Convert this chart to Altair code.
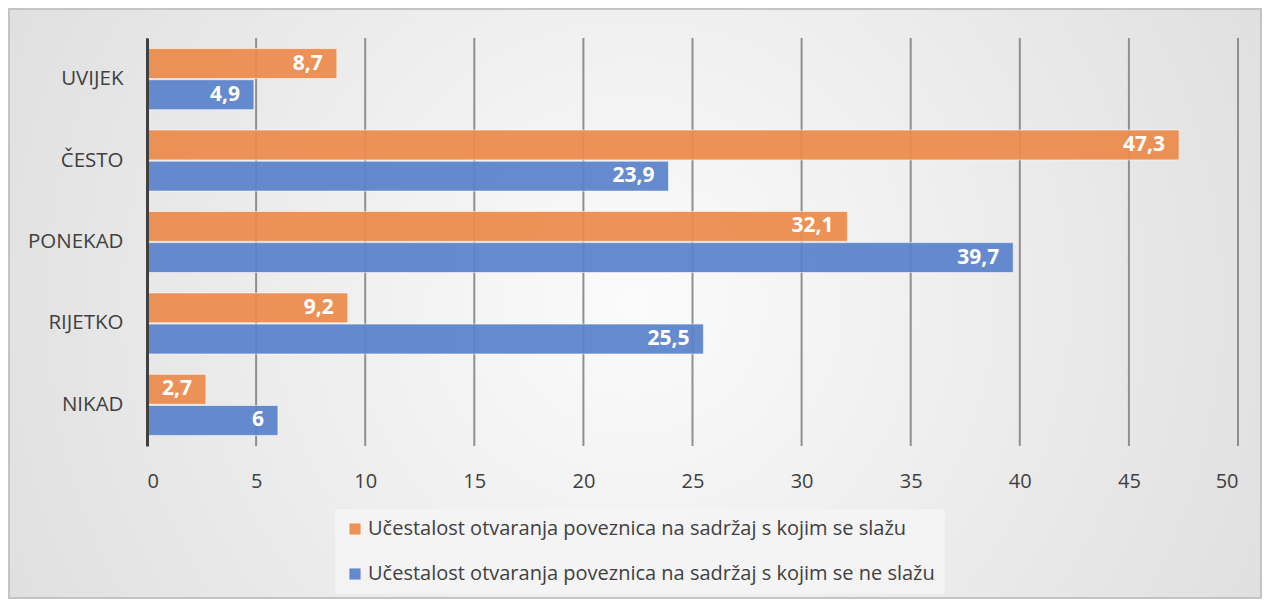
import altair as alt
import pandas as pd

categories = ["UVIJEK", "ČESTO", "PONEKAD", "RIJETKO", "NIKAD"]
series = [
    "Učestalost otvaranja poveznica na sadržaj s kojim se slažu",
    "Učestalost otvaranja poveznica na sadržaj s kojim se ne slažu",
]
agree_vals = [8.7, 47.3, 32.1, 9.2, 2.7]
disagree_vals = [4.9, 23.9, 39.7, 25.5, 6]
x_ticks = [0, 5, 10, 15, 20, 25, 30, 35, 40, 45, 50]
colors = ["#ED8B4C", "#5B82CB"]

rows = []
for c, a, d in zip(categories, agree_vals, disagree_vals):
    rows.append({"cat": c, "series": series[0], "value": a,
                 "label": f"{a:g}".replace(".", ",")})
    rows.append({"cat": c, "series": series[1], "value": d,
                 "label": f"{d:g}".replace(".", ",")})
df = pd.DataFrame(rows)
ticks_df = pd.DataFrame({"t": x_ticks})

W, H = 1091, 408
PL, PT, PR, PB = 139, 30, 24, 153
FONT = "Open Sans"

xscale = alt.Scale(domain=[0, 50], nice=False, zero=True)
yscale = alt.Scale(domain=categories, paddingInner=0.25, paddingOuter=0.13)

xaxis = alt.Axis(values=x_ticks, grid=False, domain=False, ticks=False,
                 labelFontSize=20, labelColor="#404040", labelFont=FONT,
                 labelPadding=25, title=None, zindex=1)

bg = alt.Chart(pd.DataFrame({"a": [0]})).mark_rect(
    fill=alt.RadialGradient(
        gradient="radial",
        stops=[alt.GradientStop(offset=0, color="#fbfbfb"),
               alt.GradientStop(offset=1, color="#d6d6d6")],
        x1=0.5, y1=0.5, x2=0.5, y2=0.5, r1=0, r2=0.75,
    ),
    stroke="#c4c4c4", strokeWidth=2,
).encode(
    x=alt.value(-PL + 1), x2=alt.value(W + PR - 1),
    y=alt.value(-PT + 1), y2=alt.value(H + PB - 1),
)

grid = alt.Chart(ticks_df).mark_rule(color="#8f8f8f", strokeWidth=2).encode(
    x=alt.X("t:Q", scale=xscale, axis=xaxis),
    y=alt.value(0), y2=alt.value(H),
)

bars = alt.Chart(df).mark_bar(stroke="white", strokeWidth=1, strokeOpacity=0.6,
                               opacity=0.93).encode(
    x=alt.X("value:Q", scale=xscale, axis=xaxis),
    y=alt.Y("cat:N", scale=yscale, sort=categories,
            axis=alt.Axis(title=None, ticks=False, labelFontSize=20.5,
                          labelColor="#404040", labelFont=FONT, labelPadding=24,
                          domainColor="#404040", domainWidth=3, zindex=1)),
    yOffset=alt.YOffset("series:N", sort=series,
                        scale=alt.Scale(domain=series, paddingInner=0.04)),
    color=alt.Color("series:N", sort=series,
                    scale=alt.Scale(domain=series, range=colors),
                    legend=alt.Legend(
                        title=None, orient="none", legendX=188, legendY=471,
                        direction="vertical", symbolType="square", symbolSize=150,
                        symbolStrokeColor="white", symbolStrokeWidth=1,
                        labelFontSize=20, labelFont=FONT, labelColor="#404040",
                        labelLimit=800, rowPadding=25, padding=10,
                        fillColor="rgba(245,245,245,0.85)", symbolOffset=0,
                        labelOffset=3)),
)

labels = alt.Chart(df).mark_text(align="right", baseline="middle", dx=-14,
                                  color="white", fontWeight="bold", fontSize=21,
                                  font=FONT).encode(
    x=alt.X("value:Q", scale=xscale),
    y=alt.Y("cat:N", scale=yscale, sort=categories),
    yOffset=alt.YOffset("series:N", sort=series,
                        scale=alt.Scale(domain=series, paddingInner=0.04)),
    text="label:N",
)

chart = alt.layer(bg, grid, bars, labels).properties(
    width=W, height=H,
    autosize=alt.AutoSizeParams(type="none"),
    padding={"left": PL, "top": PT, "right": PR, "bottom": PB},
    background="#ffffff",
).configure_view(stroke=None)

chart.save("out.html", embed_options={"renderer": "svg", "actions": False})
